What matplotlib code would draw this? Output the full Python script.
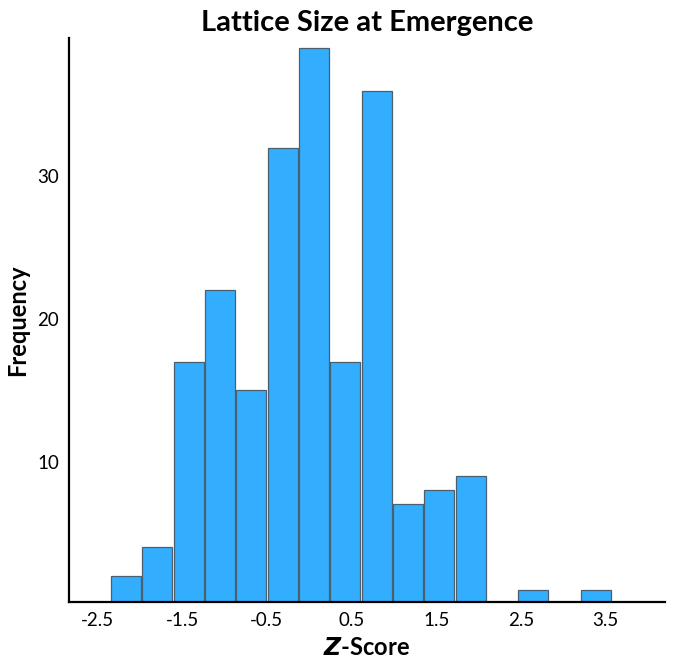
import numpy as np
import matplotlib.pyplot as plt

plt.rcParams['font.family'] = ['Lato', 'DejaVu Sans']

# histogram counts (16 equal-width bins over the data range)
counts = [2, 4, 17, 22, 15, 32, 39, 17, 36, 7, 8, 9, 0, 1, 0, 1]
z_min, z_max = -2.34, 3.58
xticks = [-2.5, -1.5, -0.5, 0.5, 1.5, 2.5, 3.5]
yticks = [10, 20, 30]

edges = np.linspace(z_min, z_max, len(counts) + 1)
width = edges[1] - edges[0]

fig = plt.figure(figsize=(6.73, 6.66), dpi=100)
ax = fig.add_axes([0.102, 0.096, 0.886, 0.847])

ax.bar(edges[:-1], counts, width=width * 0.96, align='edge',
       color='#33AEFF', edgecolor='#4a5f70', linewidth=0.9)

ax.set_xlim(-2.84, 4.2)
ax.set_ylim(0.15, 39.7)
ax.set_xticks(xticks)
ax.set_xticklabels([str(t) for t in xticks])
ax.set_yticks(yticks)
ax.tick_params(length=0, labelsize=13.5, pad=7)

for s in ['top', 'right']:
    ax.spines[s].set_visible(False)
for s in ['left', 'bottom']:
    ax.spines[s].set_linewidth(1.6)

ax.set_title('Lattice Size at Emergence', fontsize=21, fontweight='bold', pad=5)
ax.set_ylabel('Frequency', fontsize=17, fontweight='bold', labelpad=6)
ax.set_xlabel(r'$\bfit{Z}$' + '-Score', fontsize=17, fontweight='bold', labelpad=5)

fig.savefig('out.png', dpi=100)
